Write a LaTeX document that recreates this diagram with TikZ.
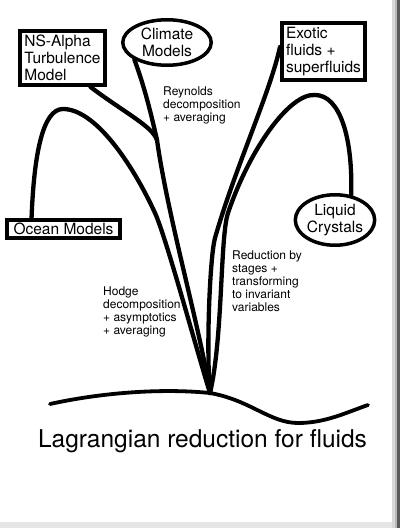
\documentclass[tikz,border=0pt]{standalone}
\usepackage{fontspec}
\setmainfont{TeX Gyre Heros}
\usepackage{tikz}
\usetikzlibrary{shapes.geometric}
\usepackage{tkz-euclide}
\tikzset{
  modelbox/.style={draw, line width=4pt, align=left, inner sep=2pt, font=\fontsize{15.5}{17}\selectfont},
  modeloval/.style={draw, ellipse, line width=3.5pt, align=center, inner sep=0pt, font=\fontsize{15.5}{17}\selectfont},
  stem/.style={line width=4.3pt, line cap=round},
  note/.style={align=left, inner sep=0pt, anchor=north west, font=\fontsize{12}{13}\selectfont}
}
\begin{document}
\begin{tikzpicture}[x=10pt,y=10pt]
                \useasboundingbox (0,0) rectangle (40,52.8);
                % edge of the scanned page
                \fill[gray!30] (39.15,0) rectangle (39.45,52.8);
                \fill[gray!55] (39.45,0) rectangle (39.7,52.8);
                \fill[black!65] (39.7,0) rectangle (40,52.8);
                \fill[gray!20] (0,0) rectangle (39.15,0.6);
                \tkzDefPoints{21/13.5/O, 15.7/38.8/J, 6.3/41.9/P, 31.5/43.3/Q, 5/12.4/G, 36.8/12.3/H}
                \node[modelbox, minimum width=85pt, minimum height=54pt] (ns) at (6.25,47) {NS-Alpha\\Turbulence\\Model};
                \node[modeloval, minimum width=88.5pt, minimum height=45.5pt] (climate) at (16.7,48.55) {Climate\\Models};
                \node[modelbox, minimum width=83pt, minimum height=57pt] (exotic) at (32.35,47.65) {Exotic\\fluids +\\superfluids};
                \node[modeloval, minimum width=74.5pt, minimum height=50.5pt] (liquid) at (33.5,30.8) {Liquid\\Crystals};
                \node[modelbox, minimum width=113pt, minimum height=18pt] (ocean) at (6.35,29.9) {Ocean Models};
                \node[note] (reynolds) at (16.3,44.1) {Reynolds\\decomposition\\+ averaging};
                \node[note] (stages) at (23.2,27.7) {Reduction by\\stages +\\transforming\\to invariant\\variables};
                \node[note] (hodge) at (10.3,24.1) {Hodge\\decomposition\\+ asymptotics\\+ averaging};
                \node[anchor=base, inner sep=0pt, font=\fontsize{24.5}{26}\selectfont] (title) at (20.25,8.0) {Lagrangian reduction for fluids};
                % ground
                \draw[line width=3.8pt, line cap=round] (G) .. controls (10,13.5) and (16,14.0) .. (O)
                  .. controls (25,12.8) and (27,10.5) .. (29.8,10.5) .. controls (32.5,10.5) and (34.5,11.5) .. (H);
                % stems
                \draw[stem] (ocean.161) .. controls (3.4,37.5) and (4.3,41.9) .. (P)
                  .. controls (9.5,41.9) and (13.2,36.5) .. (15.5,31.5) .. controls (16.6,29.1) and (19.6,18) .. (O);
                \draw[stem] (climate.208) .. controls (14.5,44) and (15.2,41) .. (J) .. controls (16.8,31) and (20,20) .. (O);
                \draw[stem] (ns.314) .. controls (12.5,41.5) and (15.2,40.2) .. (J);
                \draw[stem] (exotic.174) .. controls (27,43.5) and (23.5,36) .. (21.5,29) .. controls (21.0,27.2) and (20.6,18) .. (O);
                \draw[stem] (liquid.57) .. controls (35.3,39) and (34,43.3) .. (Q)
                  .. controls (29,43.5) and (25,38) .. (22.8,31.5) .. controls (22.0,29.1) and (22.3,19) .. (O);
            \end{tikzpicture}
\end{document}
